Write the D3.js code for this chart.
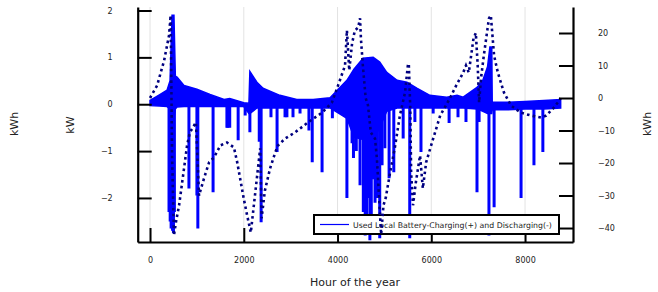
<!DOCTYPE html>
<html>
<head>
<meta charset="utf-8">
<script src="https://cdn.jsdelivr.net/npm/d3@7/dist/d3.min.js"></script>
<style>
  body { margin: 0; background: #fff; }
  svg { font-family: "DejaVu Sans", sans-serif; }
</style>
</head>
<body>
<svg id="chart" width="658" height="292"></svg>
<script>
// Battery charging band (kW): hour, top and bottom of the daily swing
var envHours = [0, 200, 363, 427, 470, 510, 540, 576, 725, 1000,
  1280, 1580, 1700, 2000, 2110, 2130, 2280, 2410, 2770, 3130,
  3480, 3840, 4200, 4350, 4545, 4760, 4900, 5050, 5270, 5480,
  5700, 5970, 6330, 6550, 6680, 6975, 7100, 7200, 7250, 7290,
  7300, 7600, 8000, 8400, 8760];
var envTop = [0.08, 0.2, 0.3, 0.5, 1.9, 1.9, 0.6, 0.58, 0.4, 0.32,
  0.21, 0.1, 0.12, 0.03, 0.02, 0.7, 0.47, 0.34, 0.19, 0.1,
  0.1, 0.14, 0.51, 0.75, 0.98, 1.0, 0.9, 0.68, 0.51, 0.47,
  0.34, 0.19, 0.15, 0.19, 0.15, 0.36, 0.51, 0.8, 1.22, 1.22,
  0.04, 0.04, 0.06, 0.08, 0.1];
var envBottom = [-0.03, -0.04, -0.05, -0.1, -0.3, -0.3, -0.1, -0.06, -0.05, -0.05,
  -0.05, -0.05, -0.05, -0.05, -0.2, -0.2, -0.08, -0.08, -0.08, -0.08,
  -0.08, -0.08, -0.3, -0.7, -0.75, -0.75, -0.5, -0.15, -0.08, -0.08,
  -0.08, -0.08, -0.08, -0.08, -0.08, -0.1, -0.15, -0.2, -0.2, -0.2,
  -0.12, -0.12, -0.1, -0.1, -0.08];

// Discharging spikes (kW)
var negHours = [405, 430, 450, 480, 500, 520, 830, 1000, 1020, 1345,
  1640, 1660, 1700, 1880, 2030, 2130, 2330, 2370, 2580, 2710,
  2880, 2920, 3050, 3200, 3390, 3460, 3670, 3890, 4200, 4310,
  4340, 4400, 4480, 4550, 4590, 4620, 4650, 4690, 4720, 4750,
  4800, 4850, 4900, 4950, 5010, 5100, 5200, 5400, 5540, 5650,
  5780, 6040, 6380, 6570, 6740, 6975, 7020, 7230, 7340, 7915,
  8190, 8380];
var negKw = [-2.3, -2.5, -2.65, -2.7, -2.75, -2.3, -1.8, -1.95, -2.65, -1.88,
  -0.5, -0.5, -0.5, -0.77, -0.24, -0.6, -0.8, -2.52, -0.28, -1.02,
  -0.28, -0.28, -0.28, -0.2, -0.56, -1.24, -1.45, -0.3, -2.0, -0.83,
  -1.15, -1.0, -1.73, -2.3, -2.8, -2.4, -2.0, -2.9, -2.5, -1.6,
  -2.1, -2.0, -2.86, -1.3, -0.94, -1.58, -1.45, -0.73, -2.86, -0.38,
  -1.02, -0.2, -0.4, -0.28, -0.38, -1.88, -0.38, -2.8, -2.2, -2.0,
  -1.3, -1.02];

// Battery energy (kWh), right axis
var socHours = [0, 150, 300, 405, 440, 470, 510, 555, 620, 725,
  790, 850, 980, 1045, 1150, 1260, 1365, 1500, 1640, 1790,
  1860, 2000, 2070, 2150, 2350, 2380, 2450, 2560, 2670, 2730,
  2880, 3090, 3370, 3670, 3880, 4010, 4160, 4200, 4250, 4310,
  4370, 4440, 4480, 4500, 4540, 4600, 4650, 4710, 4800, 4840,
  4880, 4930, 4980, 5030, 5120, 5220, 5330, 5440, 5500, 5520,
  5550, 5570, 5610, 5670, 5760, 5820, 5890, 6040, 6190, 6400,
  6530, 6680, 6740, 6800, 6900, 6950, 6990, 7020, 7060, 7120,
  7230, 7270, 7340, 7420, 7550, 7700, 7910, 8130, 8340, 8450,
  8600, 8730, 8760];
var socKwh = [0, 3.8, 11.5, 19.2, 25.4, -17.7, -42.3, -38, -33, -21.7,
  -14.6, -10.6, -7.5, -30, -24.8, -19.8, -18.3, -14.6, -13.7, -15.2,
  -19.8, -31, -36, -41.4, -15.5, -37, -28.5, -21.7, -16.8, -14.6,
  -12.5, -10.6, -7.5, -4.5, -1.4, 3.8, 10, 20.8, 8.5, 16.8,
  20.8, 21.7, 24.5, 18, 10, 0, -2.3, -10.6, -12.5, -18.6,
  -29, -42, -33, -30.6, -23, -15.5, -5.4, 1.7, 10, 10.6,
  -2.3, -23, -33, -26, -17.7, -27.8, -19.8, -12.5, -5.4, 0,
  3.8, 7.8, 10, 7.8, 18.3, 20, 10, -1.4, 6, 13,
  24.5, 25.4, 13, 7.8, 1.7, -2.3, -4.5, -5.4, -6, -5.4,
  -3.2, -0.8, 0];

// Tick labels
var xTicks = [0, 2000, 4000, 6000, 8000];
var yLeftTicks = [-2, -1, 0, 1, 2];
var yRightTicks = [-40, -30, -20, -10, 0, 10, 20];
var legendLabel = "Used Local Battery-Charging(+) and Discharging(-)";

// Plot box
var boxLeft = 137.7, boxRight = 573, boxTop = 7, boxBottom = 242;

var x = d3.scaleLinear().domain([-263, 9023]).range([boxLeft, boxRight]);
var yL = d3.scaleLinear().domain([-2.94, 2.075]).range([boxBottom, boxTop]);
var yR = d3.scaleLinear().domain([-44.3, 28.0]).range([boxBottom, boxTop]);

var svg = d3.select("#chart");

svg.append("clipPath").attr("id", "plotclip")
  .append("rect")
  .attr("x", boxLeft).attr("y", boxTop)
  .attr("width", boxRight - boxLeft).attr("height", boxBottom - boxTop);

// Vertical grid lines
svg.append("g").selectAll("line")
  .data(xTicks)
  .enter().append("line")
  .attr("x1", function(d) { return x(d); })
  .attr("x2", function(d) { return x(d); })
  .attr("y1", boxTop).attr("y2", boxBottom)
  .attr("stroke", "#e3e3e3")
  .attr("stroke-width", 1);

var plot = svg.append("g").attr("clip-path", "url(#plotclip)");

// Dense daily charge/discharge band
var band = envHours.map(function(h, i) {
  return { h: h, top: envTop[i], bot: envBottom[i] };
});
plot.append("path")
  .datum(band)
  .attr("fill", "#0000ff")
  .attr("stroke", "#0000ff")
  .attr("stroke-width", 1.5)
  .attr("d", d3.area()
    .x(function(d) { return x(d.h); })
    .y0(function(d) { return yL(d.bot); })
    .y1(function(d) { return yL(d.top); }));

// Discharge spikes
plot.append("g").selectAll("line")
  .data(negHours)
  .enter().append("line")
  .attr("x1", function(d) { return x(d); })
  .attr("x2", function(d) { return x(d); })
  .attr("y1", yL(0))
  .attr("y2", function(d, i) { return yL(negKw[i]); })
  .attr("stroke", "#0000ff")
  .attr("stroke-width", 3);

// Axes
function styleAxis(g) {
  g.attr("font-family", null);
  g.select(".domain").attr("stroke", "#000").attr("stroke-width", 2.2);
  g.selectAll(".tick line").attr("stroke", "#000").attr("stroke-width", 2);
  g.selectAll(".tick text").attr("fill", "#222").style("font-size", "8px");
}

svg.append("g")
  .attr("transform", "translate(" + boxLeft + ",0)")
  .call(d3.axisLeft(yL).tickValues(yLeftTicks).tickFormat(d3.format("d"))
    .tickSizeInner(-14).tickSizeOuter(0).tickPadding(25))
  .call(styleAxis);

svg.append("g")
  .attr("transform", "translate(0," + boxBottom + ")")
  .call(d3.axisBottom(x).tickValues(xTicks).tickFormat(d3.format("d"))
    .tickSizeInner(-14).tickSizeOuter(0).tickPadding(15))
  .call(styleAxis);

// Legend
var legend = svg.append("g");
legend.append("rect")
  .attr("x", 314).attr("y", 215)
  .attr("width", 245).attr("height", 19)
  .attr("fill", "#fff")
  .attr("stroke", "#000")
  .attr("stroke-width", 2);
legend.append("line")
  .attr("x1", 320).attr("x2", 349)
  .attr("y1", 224.5).attr("y2", 224.5)
  .attr("stroke", "#0000ff")
  .attr("stroke-width", 1.2);
legend.append("text")
  .attr("x", 353).attr("y", 227.5)
  .attr("fill", "#222")
  .style("font-size", "7.8px")
  .text(legendLabel);

// Battery energy, dotted, on the twin axis
var soc = socHours.map(function(h, i) { return { h: h, v: socKwh[i] }; });
svg.append("g").attr("clip-path", "url(#plotclip)")
  .append("path")
  .datum(soc)
  .attr("fill", "none")
  .attr("stroke", "#000080")
  .attr("stroke-width", 2.6)
  .attr("stroke-dasharray", "2.6,3.2")
  .attr("d", d3.line()
    .x(function(d) { return x(d.h); })
    .y(function(d) { return yR(d.v); }));

svg.append("g")
  .attr("transform", "translate(" + boxRight + ",0)")
  .call(d3.axisRight(yR).tickValues(yRightTicks).tickFormat(d3.format("d"))
    .tickSizeInner(-14).tickSizeOuter(0).tickPadding(25))
  .call(styleAxis);

// Axis titles
function vLabel(cx, cy, txt) {
  svg.append("text")
    .attr("transform", "translate(" + cx + "," + cy + ") rotate(-90)")
    .attr("text-anchor", "middle")
    .attr("dy", "0.35em")
    .attr("fill", "#222")
    .style("font-size", "11px")
    .text(txt);
}
vLabel(14, 124, "kWh");
vLabel(70, 125, "kW");
vLabel(647, 124, "kWh");

svg.append("text")
  .attr("x", 355).attr("y", 286)
  .attr("text-anchor", "middle")
  .attr("fill", "#222")
  .style("font-size", "11px")
  .text("Hour of the year");
</script>
</body>
</html>
